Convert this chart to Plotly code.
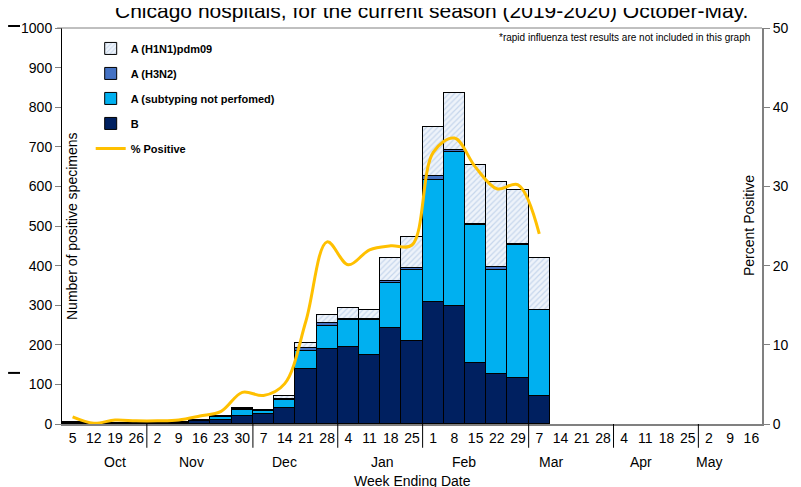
import plotly.graph_objects as go

# ── Data ────────────────────────────────────────────────────────────────────
WEEK_DAYS = [5, 12, 19, 26, 2, 9, 16, 23, 30, 7, 14, 21, 28, 4, 11, 18, 25,
             1, 8, 15, 22, 29, 7, 14, 21, 28, 4, 11, 18, 25, 2, 9, 16]
MONTHS = ["Oct", "Nov", "Dec", "Jan", "Feb", "Mar", "Apr", "May"]
WEEKS_PER_MONTH = [4, 5, 4, 4, 5, 4, 4, 3]

B = [3, 1, 2, 2, 2, 3, 7, 10, 20, 25, 41, 138, 189, 195, 174, 242, 209,
     308, 298, 154, 126, 117, 71]
A_UNSUB = [1, 0, 1, 0, 1, 1, 2, 7, 15, 8, 19, 47, 59, 68, 89, 115, 181,
           308, 388, 348, 264, 335, 216]
H3N2 = [0, 0, 0, 0, 0, 0, 0, 1, 3, 1, 2, 6, 6, 2, 1, 3, 3,
        10, 5, 3, 6, 3, 0]
H1N1 = [1, 1, 0, 1, 1, 1, 1, 1, 3, 1, 9, 13, 21, 29, 25, 58, 80,
        124, 144, 150, 214, 135, 131]

PCT_POS = [0.9, 0.1, 0.5, 0.4, 0.4, 0.5, 1.0, 1.6, 4.0, 3.6, 5.1, 13.0, 23.0,
           20.1, 22.0, 22.5, 22.6, 34.3, 36.1, 32.4, 29.7, 30.2, 24.0]

# ── Style ───────────────────────────────────────────────────────────────────
FONT = "Liberation Sans, Arial, sans-serif"
NAVY = "#002060"
CYAN = "#00B0F0"
MIDBLUE = "#4472C4"
GOLD = "#FFC000"
GREY = "#808080"

n_weeks = len(WEEK_DAYS)
x_all = list(range(n_weeks))
x_bar = x_all[:len(B)]

fig = go.Figure()

bar_line = dict(color="black", width=1)
fig.add_trace(go.Bar(x=x_bar, y=B, name="B", marker=dict(color=NAVY, line=bar_line),
                     legendrank=4, legendgroup="b"))
fig.add_trace(go.Bar(x=x_bar, y=A_UNSUB, name="A (subtyping not perfomed)",
                     marker=dict(color=CYAN, line=bar_line),
                     legendrank=3, legendgroup="a"))
fig.add_trace(go.Bar(x=x_bar, y=H3N2, name="A (H3N2)",
                     marker=dict(color=MIDBLUE, line=bar_line),
                     legendrank=2, legendgroup="h3"))
fig.add_trace(go.Bar(x=x_bar, y=H1N1, name="A (H1N1)pdm09",
                     marker=dict(color="#EEF3FA", line=bar_line,
                                 pattern=dict(shape="/", fgcolor="#9DB9DE",
                                              bgcolor="#EEF3FA", size=4,
                                              solidity=0.3)),
                     legendrank=1, legendgroup="h1"))
fig.add_trace(go.Scatter(x=x_bar, y=PCT_POS, name="% Positive", yaxis="y2",
                         mode="lines", line=dict(color=GOLD, width=3,
                                                 shape="spline", smoothing=1.0),
                         legendrank=5, legendgroup="p"))

# month separators + month labels
shapes = []
annotations = []
start = 0
label_pos = [1.99, 5.61, 9.98, 14.59, 18.45, 22.54, 26.8, 30.0]
for i, (m, w) in enumerate(zip(MONTHS, WEEKS_PER_MONTH)):
    if start > 0:
        shapes.append(dict(type="line", xref="x", yref="paper",
                           x0=start - 0.5, x1=start - 0.5, y0=0, y1=-0.06,
                           line=dict(color="black", width=1)))
    annotations.append(dict(x=label_pos[i], y=-0.097, xref="x", yref="paper",
                            text=m, showarrow=False, yanchor="middle",
                            font=dict(size=14, color="black", family=FONT)))
    start += w

# stray dashes on left edge
for yy in [1.005, 0.129]:
    shapes.append(dict(type="line", xref="paper", yref="paper",
                       x0=-0.077, x1=-0.060, y0=yy, y1=yy,
                       line=dict(color="black", width=2)))

annotations += [
    dict(x=0.5, y=1.0, xref="paper", yref="paper", yshift=4, xshift=19,
         text="Chicago hospitals, for the current season (2019-2020) October-May.",
         showarrow=False, yanchor="bottom", xanchor="center",
         font=dict(size=21, color="black", family=FONT)),
    dict(x=0.985, y=0.977, xref="paper", yref="paper",
         text="*rapid influenza test results are not included in this graph",
         showarrow=False, xanchor="right", yanchor="middle",
         font=dict(size=10, color="black", family=FONT)),
    dict(x=0.0, y=0.5, xref="paper", yref="paper", xshift=0, textangle=-90,
         text="Number of positive specimens", showarrow=False,
         xanchor="left", yanchor="middle",
         font=dict(size=14, color="black", family=FONT)),
    dict(x=1.0, y=0.5, xref="paper", yref="paper", xshift=-3, textangle=-90,
         text="Percent Positive", showarrow=False,
         xanchor="right", yanchor="middle",
         font=dict(size=14, color="black", family=FONT)),
    dict(x=0.5, y=-0.145, xref="paper", yref="paper",
         text="Week Ending Date", showarrow=False, yanchor="middle",
         font=dict(size=14, color="black", family=FONT)),
]

# page body has an 8px margin, so the figure is shrunk to fit the window
fig.update_layout(
    width=793, height=479,
    paper_bgcolor="white", plot_bgcolor="white",
    margin=dict(l=54, r=37, t=12, b=63),
    barmode="stack", bargap=0,
    font=dict(family=FONT, color="black", size=14),
    showlegend=True,
    legend=dict(x=0.041, y=0.985, xanchor="left", yanchor="top",
                bgcolor="rgba(0,0,0,0)", traceorder="grouped",
                tracegroupgap=6, itemwidth=30,
                font=dict(size=11, family=FONT, color="black", weight="bold")),
    xaxis=dict(range=[-0.5, n_weeks - 0.5], tickmode="array",
               tickvals=x_all, ticktext=[str(d) for d in WEEK_DAYS],
               ticks="", showline=True, linecolor=GREY, linewidth=2,
               showgrid=False, zeroline=False, mirror=False,
               tickfont=dict(size=14)),
    yaxis=dict(range=[0, 1000], dtick=100, ticks="outside", ticklen=6,
               tickcolor=GREY, showline=True, linecolor="black", linewidth=1,
               showgrid=False, zeroline=False, tickfont=dict(size=14)),
    yaxis2=dict(range=[0, 50], dtick=10, overlaying="y", side="right",
                ticks="outside", ticklen=6, tickcolor=GREY, showline=True,
                linecolor=GREY, linewidth=2, showgrid=False, zeroline=False,
                tickfont=dict(size=14)),
    shapes=shapes + [dict(type="line", xref="paper", yref="paper",
                          x0=-0.007, x1=1.0, y0=1, y1=1,
                          line=dict(color=GREY, width=1))],
    annotations=annotations,
)

fig.write_html("out.html")
